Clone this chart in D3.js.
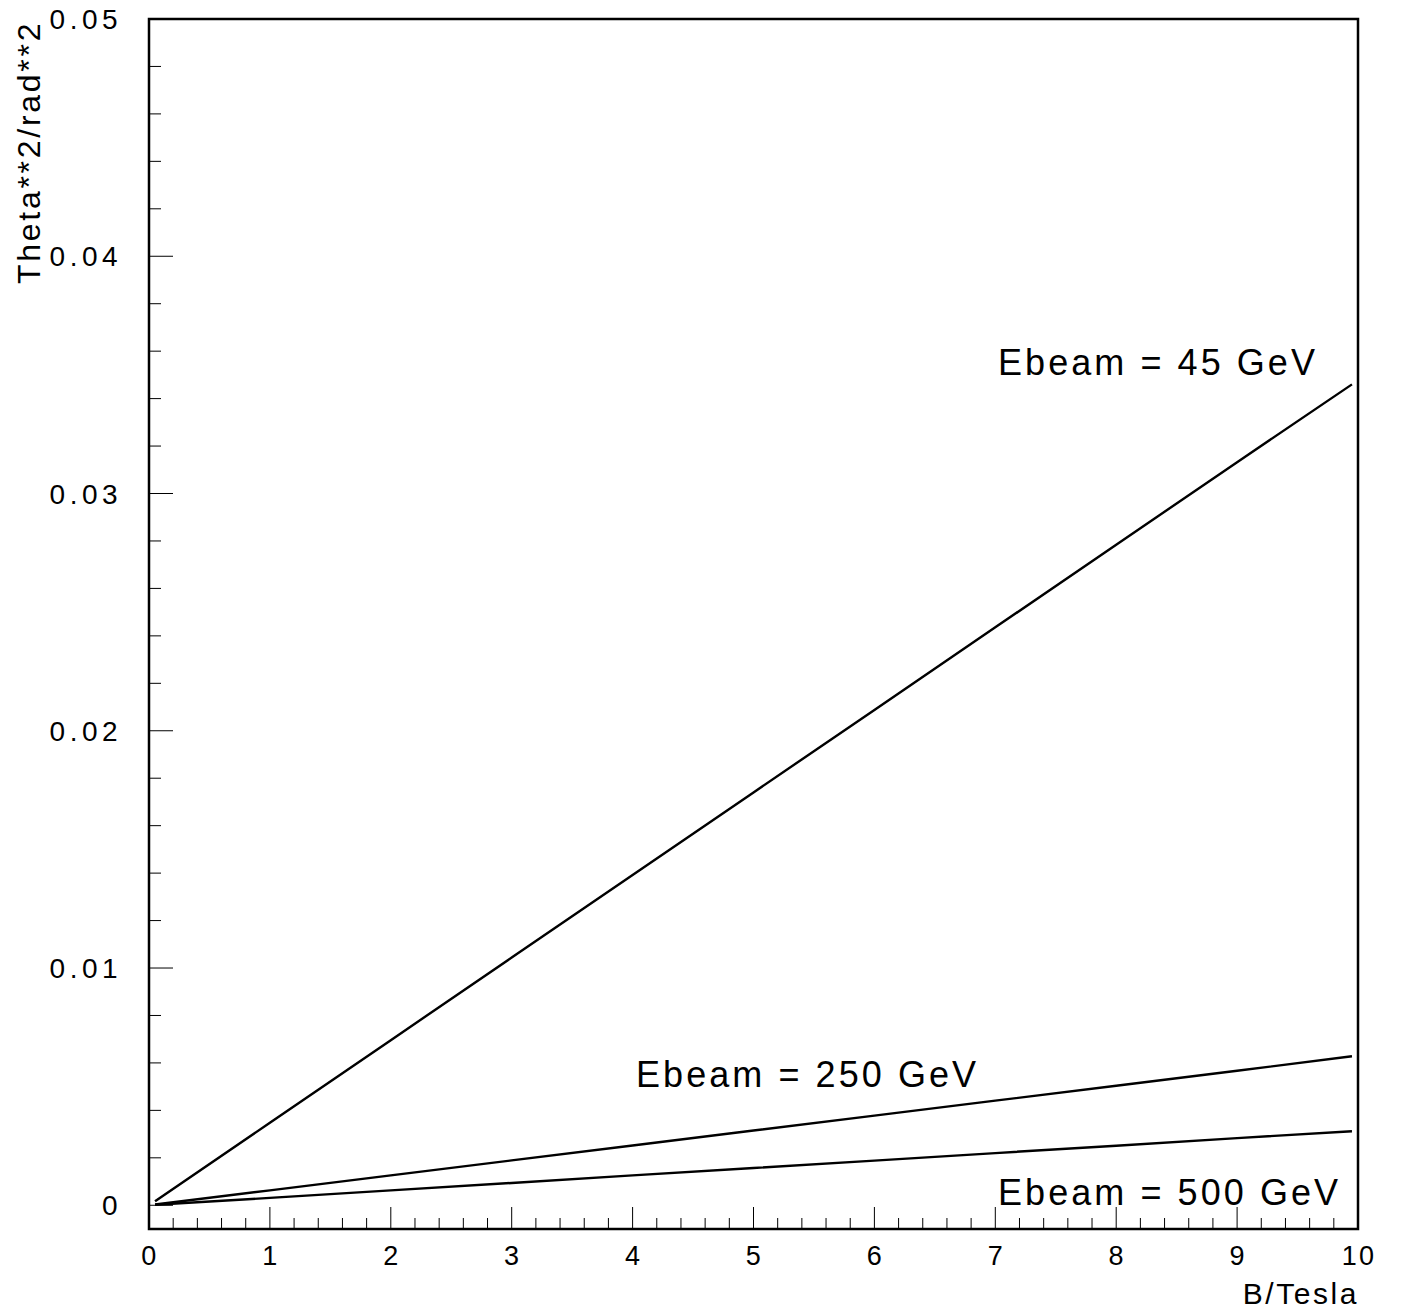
<!DOCTYPE html>
<html>
<head>
<meta charset="utf-8">
<script src="https://cdn.jsdelivr.net/npm/d3@7"></script>
<style>
  body { margin: 0; background: #fff; }
  text { font-family: "Liberation Sans", Arial, sans-serif; fill: #000; letter-spacing: 0.085em; }
  text.ylab { letter-spacing: 0.16em; }
</style>
</head>
<body>
<svg id="chart" width="1401" height="1312"></svg>
<script>
// field values
var bField = [0.05, 1, 2, 3, 4, 5, 6, 7, 8, 9, 9.95];
var theta45 = [0.00017, 0.00348, 0.00696, 0.01044, 0.01392, 0.0174, 0.02088, 0.02436, 0.02784, 0.03132, 0.0346];
var theta250 = [0.00003, 0.00063, 0.00126, 0.00189, 0.00252, 0.00315, 0.00378, 0.00441, 0.00504, 0.00567, 0.00628];
var theta500 = [0.00002, 0.00031, 0.00063, 0.00094, 0.00126, 0.00157, 0.00188, 0.0022, 0.00251, 0.00283, 0.00312];
var xTicks = [0, 1, 2, 3, 4, 5, 6, 7, 8, 9, 10];
var yTicks = [0, 0.01, 0.02, 0.03, 0.04, 0.05];
var yTickLabels = ["0", "0.01", "0.02", "0.03", "0.04", "0.05"];

var series = [
  { name: "Ebeam = 45 GeV", values: theta45, lx: 998, ly: 375 },
  { name: "Ebeam = 250 GeV", values: theta250, lx: 636, ly: 1087 },
  { name: "Ebeam = 500 GeV", values: theta500, lx: 998, ly: 1205 }
];

var frameL = 149, frameR = 1358, frameT = 19, frameB = 1229;

var svg = d3.select("#chart");

var x = d3.scaleLinear().domain([0, 10]).range([frameL, frameR]);
var y = d3.scaleLinear().domain([-0.001, 0.05]).range([frameB, frameT]);

// minor ticks
var xMinor = d3.range(0, 10.001, 0.2).filter(function (d) { return Math.abs(d - Math.round(d)) > 0.01; });
var yMinor = d3.range(0, 0.0501, 0.002).filter(function (d) { return Math.abs(d * 100 - Math.round(d * 100)) > 0.01; });

var ticks = svg.append("g")
  .attr("stroke", "#000")
  .attr("stroke-width", 1);

ticks.selectAll("line.xmaj")
  .data(xTicks)
  .enter().append("line")
  .attr("class", "xmaj")
  .attr("x1", function (d) { return x(d); })
  .attr("x2", function (d) { return x(d); })
  .attr("y1", frameB)
  .attr("y2", frameB - 22);

ticks.selectAll("line.xmin")
  .data(xMinor)
  .enter().append("line")
  .attr("class", "xmin")
  .attr("x1", function (d) { return x(d); })
  .attr("x2", function (d) { return x(d); })
  .attr("y1", frameB)
  .attr("y2", frameB - 11);

ticks.selectAll("line.ymaj")
  .data(yTicks)
  .enter().append("line")
  .attr("class", "ymaj")
  .attr("x1", frameL)
  .attr("x2", frameL + 24)
  .attr("y1", function (d) { return y(d); })
  .attr("y2", function (d) { return y(d); });

ticks.selectAll("line.ymin")
  .data(yMinor)
  .enter().append("line")
  .attr("class", "ymin")
  .attr("x1", frameL)
  .attr("x2", frameL + 12)
  .attr("y1", function (d) { return y(d); })
  .attr("y2", function (d) { return y(d); });

// frame
svg.append("rect")
  .attr("x", frameL)
  .attr("y", frameT)
  .attr("width", frameR - frameL)
  .attr("height", frameB - frameT)
  .attr("fill", "none")
  .attr("stroke", "#000")
  .attr("stroke-width", 2.5);

// tick labels
svg.selectAll("text.xlab")
  .data(xTicks)
  .enter().append("text")
  .attr("class", "xlab")
  .attr("x", function (d) { return x(d) + 1; })
  .attr("y", 1265)
  .attr("text-anchor", "middle")
  .attr("font-size", 27)
  .text(function (d) { return d; });

svg.selectAll("text.ylab")
  .data(yTicks)
  .enter().append("text")
  .attr("class", "ylab")
  .attr("x", 122)
  .attr("y", function (d) { return y(d) + 10; })
  .attr("text-anchor", "end")
  .attr("font-size", 28)
  .text(function (d, i) { return yTickLabels[i]; });

// axis titles
svg.append("text")
  .attr("x", 1359)
  .attr("y", 1304)
  .attr("text-anchor", "end")
  .attr("font-size", 30)
  .text("B/Tesla");

svg.append("text")
  .attr("transform", "translate(40,284) rotate(-90)")
  .attr("text-anchor", "start")
  .attr("font-size", 32)
  .text("Theta**2/rad**2");

// curves
var line = d3.line()
  .x(function (d, i) { return x(bField[i]); })
  .y(function (d) { return y(d); });

svg.selectAll("path.curve")
  .data(series)
  .enter().append("path")
  .attr("class", "curve")
  .attr("d", function (d) { return line(d.values); })
  .attr("fill", "none")
  .attr("stroke", "#000")
  .attr("stroke-width", 2.4);

svg.selectAll("text.label")
  .data(series)
  .enter().append("text")
  .attr("class", "label")
  .attr("x", function (d) { return d.lx; })
  .attr("y", function (d) { return d.ly; })
  .attr("font-size", 36)
  .text(function (d) { return d.name; });
</script>
</body>
</html>
